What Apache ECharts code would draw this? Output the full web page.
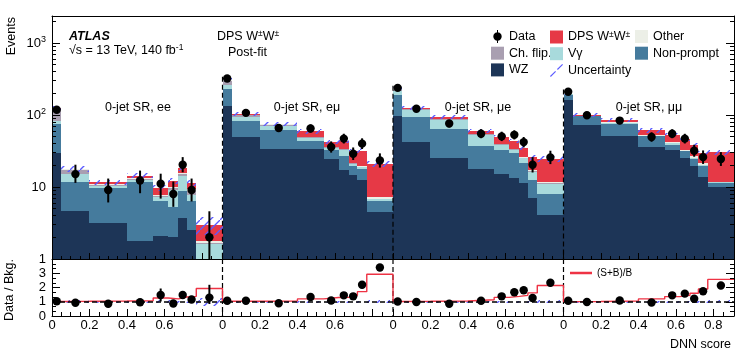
<!DOCTYPE html>
<html>
<head>
<meta charset="utf-8">
<script src="https://cdn.jsdelivr.net/npm/echarts@6/dist/echarts.min.js"></script>
<style>
  html, body { margin: 0; padding: 0; background: #fff; }
  #chart { width: 753px; height: 360px; }
</style>
</head>
<body>
<div id="chart"></div>
<script>
// DNN score binning, identical in every signal region
const binEdges = [0, 0.05, 0.2, 0.4, 0.54, 0.62, 0.675, 0.72, 0.77, 0.91];
const regionNames = ['0-jet SR, ee', '0-jet SR, eμ', '0-jet SR, μe', '0-jet SR, μμ'];

// tick positions inside one region
const majorTicks = [0, 0.2, 0.4, 0.6, 0.8];
const minorTicks = [0.05, 0.1, 0.15, 0.25, 0.3, 0.35, 0.45, 0.5, 0.55, 0.65, 0.7, 0.75, 0.85];
const tickLabels = [[0, 0.2, 0.4, 0.6], [0, 0.2, 0.4, 0.6], [0, 0.2, 0.4, 0.6], [0, 0.2, 0.4, 0.6, 0.8]];
const logMinorTicks = [2, 3, 4, 5, 6, 7, 8, 9, 20, 30, 40, 50, 60, 70, 80, 90, 200, 300, 400, 500, 600, 700, 800, 900, 2000];

// post-fit yields, one row per region (ee, eμ, μe, μμ)
const wz = [
  [30, 4.7, 3.2, 1.8, 2.1, 2.05, 3.7, 2.5, 0.4],
  [132, 49, 34, 34, 24.5, 17.4, 14.8, 12.6, 4.5],
  [96, 41.7, 25.3, 17.8, 15.1, 13.3, 11.3, 7, 4.1],
  [164, 73.5, 51.7, 36, 33, 25.3, 19.3, 13.6, 10]
];
const nonPrompt = [
  [45, 7.0, 6.5, 9.8, 4.2, 3.15, 5.0, 3.8, 0.5],
  [99, 33, 28.6, 9, 7.7, 9.8, 4.5, 5.2, 1.9],
  [96, 52, 39.3, 18.8, 17.9, 16.4, 10.2, 5.6, 3.9],
  [28, 22.5, 24.3, 14.5, 5.7, 5.9, 5.2, 5.7, 1.3]
];
const vGamma = [
  [6.5, 3.6, 0.6, 0.9, 0.9, 3.9, 5.3, 1.5, 0.7],
  [34, 12, 8.4, 5, 2.7, 5.8, 1.7, 1.2, 0.4],
  [22, 25, 21, 16.4, 5.7, 3.3, 3.8, 3.8, 3.1],
  [2, 0.5, 1, 1, 1.5, 0.8, 1, 1.2, 0.3]
];
const chFlip = [
  [37, 2.1, 0.3, 0.6, 0.4, 0.5, 1.2, 1.0, 0.05],
  [30, 5, 2, 1, 0.5, 0.4, 0.3, 0.2, 0.1],
  [8, 2, 2, 1, 0.5, 0.4, 0.3, 0.2, 0.1],
  [0, 0, 0, 0, 0, 0, 0, 0, 0]
];
const other = [
  [3, 0.3, 0.3, 0.3, 0.2, 0.4, 0.6, 0.5, 0.1],
  [8, 2, 1, 1, 0.5, 0.4, 0.3, 0.3, 0.3],
  [4, 1.5, 1.4, 1, 0.8, 0.6, 0.5, 0.4, 0.4],
  [2.5, 1, 2, 1.5, 1.5, 1, 1.1, 1, 0.3]
];
const dps = [
  [3, 0.3, 0.7, 0.9, 1.9, 2.2, 2.5, 2.0, 1.25],
  [8, 3, 2, 9, 6.3, 10.2, 9.6, 12.4, 13.6],
  [5, 2.5, 4, 5.6, 9, 10, 8.7, 9, 12.9],
  [2, 1.5, 7, 8, 11.3, 13.4, 12.1, 8.2, 18.3]
];
// relative uncertainty of the prediction
const predUnc = [
  [0.07, 0.1, 0.08, 0.08, 0.1, 0.1, 0.08, 0.1, 0.28],
  [0.05, 0.06, 0.06, 0.07, 0.07, 0.07, 0.07, 0.08, 0.09],
  [0.05, 0.06, 0.06, 0.07, 0.07, 0.07, 0.07, 0.08, 0.09],
  [0.05, 0.06, 0.06, 0.07, 0.07, 0.07, 0.07, 0.08, 0.09]
];

// observed data
const dataObs = [
  [118, 15.1, 9.1, 12.3, 11.1, 8.0, 20.4, 9.1, 2.0],
  [321, 107, 66, 65, 36, 47, 29, 40, 23.4],
  [238, 122, 76, 55, 50.5, 53, 42, 20.4, 25.8],
  [210, 99, 83.6, 49.5, 55, 47, 31.9, 26, 24.5]
];
const dataErrLo = [
  [11, 3.7, 3.0, 4.1, 4.2, 2.7, 4.4, 2.8, 1.3],
  [18, 10, 8, 8, 6, 6.8, 5.3, 6.3, 4.8],
  [15, 11, 8.7, 7.4, 7.1, 7.3, 6.5, 4.5, 5],
  [14.5, 10, 9.1, 7, 7.4, 6.8, 5.6, 5.1, 4.9]
];
const dataErrHi = [
  [12, 5.3, 4.0, 4.6, 4.2, 3.9, 5.6, 4.0, 2.6],
  [19, 11, 9, 9, 7, 7.9, 6.4, 7.4, 5.9],
  [16, 12, 9.7, 8.4, 8.1, 8.3, 7.5, 5.6, 6.1],
  [15.5, 11, 10.1, 8, 8.4, 7.8, 6.7, 6.2, 6]
];

// lower panel
const ratioData = [
  [1.04, 0.93, 0.86, 0.97, 1.47, 0.88, 1.47, 1.16, 1.29],
  [1.07, 1.07, 0.90, 1.33, 1.09, 1.45, 1.38, 2.19, 3.40],
  [1.02, 0.98, 0.86, 1.07, 1.38, 1.67, 1.81, 1.26, 2.33],
  [1.07, 0.98, 1.09, 0.95, 1.45, 1.57, 1.21, 1.74, 2.14]
];
const ratioErrLo = [
  [0.1, 0.2, 0.25, 0.2, 0.45, 0.25, 0.25, 0.25, 0.45],
  [0.06, 0.1, 0.12, 0.15, 0.15, 0.2, 0.2, 0.25, 0.25],
  [0.07, 0.1, 0.11, 0.15, 0.18, 0.2, 0.2, 0.2, 0.25],
  [0.07, 0.1, 0.12, 0.14, 0.2, 0.2, 0.2, 0.2, 0.25]
];
const ratioErrHi = [
  [0.1, 0.2, 0.25, 0.2, 0.46, 0.25, 0.25, 0.25, 0.9],
  [0.06, 0.1, 0.12, 0.15, 0.15, 0.2, 0.2, 0.25, 0.25],
  [0.07, 0.1, 0.11, 0.15, 0.18, 0.2, 0.2, 0.2, 0.25],
  [0.07, 0.1, 0.12, 0.14, 0.2, 0.2, 0.2, 0.2, 0.25]
];
const sbOverB = [
  [1.02, 1.03, 1.05, 1.07, 1.26, 1.2, 1.33, 1.38, 1.93],
  [1.03, 1.04, 1.05, 1.2, 1.3, 1.32, 1.45, 1.71, 2.93],
  [1.02, 1.03, 1.05, 1.14, 1.31, 1.38, 1.45, 1.62, 2.14],
  [1.01, 1.02, 1.05, 1.2, 1.36, 1.45, 1.6, 1.9, 2.57]
];

const FONT = 'Liberation Sans, Arial, Helvetica, sans-serif';
const span = binEdges[binEdges.length - 1];
const nReg = regionNames.length;
const xMax = span * nReg;
const STACK_FLOOR = 1e-3;

// hatch pattern for the uncertainty band
const hatch = document.createElement('canvas');
hatch.width = 10;
hatch.height = 10;
const hctx = hatch.getContext('2d');
hctx.strokeStyle = '#5a5aff';
hctx.lineWidth = 1.3;
hctx.beginPath();
hctx.moveTo(-1, 11);
hctx.lineTo(11, -1);
hctx.stroke();
const hatchFill = { image: hatch, repeat: 'repeat' };

const components = [
  { name: 'WZ', color: '#1d3557', values: wz },
  { name: 'Non-prompt', color: '#457b9d', values: nonPrompt },
  { name: 'Vγ', color: '#a8dadc', values: vGamma },
  { name: 'Ch. flip.', color: '#a99fb1', values: chFlip },
  { name: 'Other', color: '#ecefe7', values: other },
  { name: 'DPS W±W±', color: '#e63946', values: dps }
];

const regionTicks = (list) => {
  const out = [];
  for (let r = 0; r < nReg; r++) list.forEach(v => out.push(+(r * span + v).toFixed(5)));
  return out;
};
const labelValues = [];
tickLabels.forEach((list, r) => list.forEach(v => labelValues.push(+(r * span + v).toFixed(5))));

// cumulative stack
const total = regionNames.map(() => binEdges.slice(1).map(() => 0));
const stackSeries = components.map(comp => {
  const items = [];
  comp.values.forEach((row, r) => {
    row.forEach((v, i) => {
      const lo = total[r][i] > 0 ? total[r][i] : STACK_FLOOR;
      total[r][i] += v;
      items.push([r * span + binEdges[i], r * span + binEdges[i + 1], lo, Math.max(total[r][i], STACK_FLOOR)]);
    });
  });
  return { comp, items };
});

const clipTo = (params, r) => echarts.graphic.clipRectByRect(r, {
  x: params.coordSys.x, y: params.coordSys.y,
  width: params.coordSys.width, height: params.coordSys.height
});

const rectRenderer = (fill) => (params, api) => {
  const p0 = api.coord([api.value(0), api.value(3)]);
  const p1 = api.coord([api.value(1), api.value(2)]);
  const x0 = Math.round(p0[0]), x1 = Math.round(p1[0]);
  const y0 = Math.round(p0[1]), y1 = Math.round(p1[1]);
  const shape = clipTo(params, { x: x0, y: y0, width: x1 - x0, height: y1 - y0 });
  if (!shape) return;
  return { type: 'rect', shape, style: { fill: fill || api.visual('color') } };
};

const pointRenderer = (params, api) => {
  const c = api.coord([api.value(0), api.value(1)]);
  const lo = api.coord([api.value(0), api.value(2)]);
  const hi = api.coord([api.value(0), api.value(3)]);
  const cs = params.coordSys;
  return {
    type: 'group',
    children: [
      { type: 'line', shape: { x1: c[0], y1: Math.max(hi[1], cs.y), x2: c[0], y2: Math.min(lo[1], cs.y + cs.height) },
        style: { stroke: '#000', lineWidth: 2 } },
      { type: 'circle', shape: { cx: c[0], cy: c[1], r: 4.2 }, style: { fill: '#000' } }
    ]
  };
};

const binCenter = (r, i) => r * span + (binEdges[i] + binEdges[i + 1]) / 2;

const dataItems = [], uncItems = [], ratioItems = [], ratioBand = [], sbLine = [];
dataObs.forEach((row, r) => row.forEach((v, i) => {
  dataItems.push([binCenter(r, i), v, v - dataErrLo[r][i], v + dataErrHi[r][i]]);
  const t = total[r][i], u = predUnc[r][i];
  uncItems.push([r * span + binEdges[i], r * span + binEdges[i + 1], t * (1 - u), t * (1 + u)]);
  ratioBand.push([r * span + binEdges[i], r * span + binEdges[i + 1], 1 - u, 1 + u]);
  const q = ratioData[r][i];
  ratioItems.push([binCenter(r, i), q, q - ratioErrLo[r][i], q + ratioErrHi[r][i]]);
  sbLine.push([r * span + binEdges[i], sbOverB[r][i]]);
}));
sbLine.push([xMax, sbOverB[nReg - 1][binEdges.length - 2]]);

// region separators reach up to the taller neighbouring bin
const sepItems = [];
for (let r = 1; r < nReg; r++) {
  const a = dataObs[r - 1][8] + dataErrHi[r - 1][8], b = dataObs[r][0] + dataErrHi[r][0];
  sepItems.push([r * span, Math.max(a, b, total[r - 1][8], total[r][0])]);
}

const sepRenderer = (full) => (params, api) => {
  const cs = params.coordSys;
  const p = api.coord([api.value(0), full ? 1 : api.value(1)]);
  return {
    type: 'line',
    shape: { x1: p[0], y1: full ? cs.y : p[1], x2: p[0], y2: cs.y + cs.height },
    style: { stroke: '#000', lineWidth: 1.2, lineDash: [5, 3] }
  };
};

const supRich = {
  n: { fontSize: 13, fontFamily: FONT, color: '#000', lineHeight: 15 },
  s: { fontSize: 9, fontFamily: FONT, color: '#000', lineHeight: 9, verticalAlign: 'top' }
};
const legendRich = {
  t: { fontSize: 12.5, fontFamily: FONT, color: '#000', lineHeight: 14 },
  s: { fontSize: 8.5, fontFamily: FONT, color: '#000', lineHeight: 8, verticalAlign: 'top' }
};
const legendFormatter = (name) => name === 'DPS W±W±' ? '{t|DPS W}{s|±}{t|W}{s|±}' : '{t|' + name + '}';

const dataIcon = 'path://M6,0L7,0L7,13L6,13Z M2.3,6.5A4.2,4.2,0,1,1,10.7,6.5A4.2,4.2,0,1,1,2.3,6.5Z';
const uncIcon = 'path://M0,12.2L5.2,7L6,7.8L0.8,13Z M7,5.2L12.2,0L13,0.8L7.8,6Z';

const legendBase = {
  orient: 'vertical', itemWidth: 13, itemHeight: 13, itemGap: 3.7, padding: 0,
  selectedMode: false, formatter: legendFormatter,
  textStyle: { rich: legendRich, fontFamily: FONT, fontSize: 12.5 }
};

const axisBlack = { color: '#000', width: 1 };
const xBase = (grid) => ({
  type: 'value', gridIndex: grid, min: 0, max: xMax, z: 10,
  splitLine: { show: false }, axisLine: { show: false, onZero: false },
  axisLabel: { show: false }, axisTick: { show: false }
});

const xLabelFormatter = (v) => {
  const r = Math.floor(v / span + 1e-6);
  const loc = Math.round((v - r * span) * 100) / 100;
  return loc === 0 ? '0' : loc.toFixed(1);
};

const xAxes = [
  // upper panel: bottom line + major ticks, minor ticks, top frame
  Object.assign(xBase(0), { position: 'bottom', axisLine: { show: true, onZero: false, lineStyle: axisBlack },
    axisTick: { show: true, inside: true, length: 6, customValues: regionTicks(majorTicks), lineStyle: axisBlack } }),
  Object.assign(xBase(0), { position: 'bottom',
    axisTick: { show: true, inside: true, length: 3, customValues: regionTicks(minorTicks), lineStyle: axisBlack } }),
  Object.assign(xBase(0), { position: 'top', axisLine: { show: true, onZero: false, lineStyle: axisBlack } }),
  // lower panel
  Object.assign(xBase(1), { position: 'bottom', axisLine: { show: true, onZero: false, lineStyle: axisBlack },
    axisTick: { show: true, inside: true, length: 7, customValues: regionTicks(majorTicks), lineStyle: axisBlack },
    axisLabel: { show: true, customValues: labelValues, formatter: xLabelFormatter, fontSize: 13, fontFamily: FONT, color: '#000', margin: 3 } }),
  Object.assign(xBase(1), { position: 'bottom',
    axisTick: { show: true, inside: true, length: 4, customValues: regionTicks(minorTicks), lineStyle: axisBlack } })
];

const mainYFormatter = (v) => {
  const e = Math.round(Math.log10(v));
  if (Math.abs(Math.pow(10, e) - v) > 1e-6 * v) return '';
  if (e === 0) return '{n|1}';
  if (e === 1) return '{n|10}';
  return '{n|10}{s|' + e + '}';
};

const yLog = (pos, major) => ({
  type: 'log', logBase: 10, gridIndex: 0, min: 1, max: 2370, position: pos, z: 10,
  splitLine: { show: false },
  axisLine: { show: major, onZero: false, lineStyle: axisBlack },
  axisTick: major
    ? { show: true, inside: true, length: 8, lineStyle: axisBlack }
    : { show: true, inside: true, length: 4, customValues: logMinorTicks, lineStyle: axisBlack },
  axisLabel: (major && pos === 'left')
    ? { show: true, formatter: mainYFormatter, rich: supRich, margin: 6, showMinLabel: true, showMaxLabel: true }
    : { show: false }
});

const yRatio = (pos) => ({
  type: 'value', gridIndex: 1, min: 0, max: 4, interval: 1, position: pos, z: 10,
  splitLine: { show: false },
  axisLine: { show: true, onZero: false, lineStyle: axisBlack },
  axisTick: { show: true, inside: true, length: 8, lineStyle: axisBlack },
  minorTick: { show: true, splitNumber: 3, length: 4, lineStyle: axisBlack },
  axisLabel: pos === 'left'
    ? { show: true, formatter: (v) => v >= 4 ? '' : String(v), fontSize: 13, fontFamily: FONT, color: '#000', margin: 6 }
    : { show: false }
});

const series = stackSeries.map(({ comp, items }) => ({
  name: comp.name, type: 'custom', xAxisIndex: 0, yAxisIndex: 0, z: 2,
  itemStyle: { color: comp.color },
  renderItem: rectRenderer(comp.color),
  encode: { x: [0, 1], y: [2, 3] },
  data: items, silent: true
}));

series.push({
  name: 'Uncertainty', type: 'custom', xAxisIndex: 0, yAxisIndex: 0, z: 3,
  itemStyle: { color: '#5a5aff' }, renderItem: rectRenderer(hatchFill),
  encode: { x: [0, 1], y: [2, 3] }, data: uncItems, silent: true
});
series.push({
  name: 'sep', type: 'custom', xAxisIndex: 0, yAxisIndex: 0, z: 4,
  renderItem: sepRenderer(false), encode: { x: 0, y: 1 }, data: sepItems, silent: true
});
series.push({
  name: 'Data', type: 'custom', xAxisIndex: 0, yAxisIndex: 0, z: 5,
  itemStyle: { color: '#000' }, renderItem: pointRenderer,
  encode: { x: 0, y: [1, 2, 3] }, data: dataItems, silent: true
});

// lower panel
series.push({
  name: 'ratioBand', type: 'custom', xAxisIndex: 3, yAxisIndex: 4, z: 3,
  renderItem: rectRenderer(hatchFill), encode: { x: [0, 1], y: [2, 3] }, data: ratioBand, silent: true,
  markLine: { silent: true, symbol: ['none', 'none'], label: { show: false },
    lineStyle: { color: '#000', width: 1.6, type: [5, 3] }, data: [{ yAxis: 1 }] }
});
series.push({
  name: 'ratioSep', type: 'custom', xAxisIndex: 3, yAxisIndex: 4, z: 4,
  renderItem: sepRenderer(true), encode: { x: 0 }, data: sepItems.map(s => [s[0]]), silent: true
});
series.push({
  name: '(S+B)/B', type: 'line', xAxisIndex: 3, yAxisIndex: 4, z: 4, step: 'end',
  showSymbol: false, silent: true, data: sbLine,
  itemStyle: { color: '#ee3344' }, lineStyle: { color: '#ee3344', width: 1.4 }
});
series.push({
  name: 'Data/Bkg', type: 'custom', xAxisIndex: 3, yAxisIndex: 4, z: 5,
  renderItem: pointRenderer, encode: { x: 0, y: [1, 2, 3] }, data: ratioItems, silent: true
});

const txt = (x, y, text, extra) => ({
  type: 'text', x, y, silent: true,
  ...(extra && extra.rotation ? { rotation: extra.rotation } : {}),
  style: Object.assign({
    text, fill: '#000', font: '12.5px ' + FONT,
    align: 'left', verticalAlign: 'middle', textAlign: 'left', textVerticalAlign: 'middle'
  }, extra ? extra.style : {})
});

const graphic = [
  txt(69, 37, 'ATLAS', { style: { font: 'italic bold 12.5px ' + FONT } }),
  txt(69, 51, '{n|√s = 13 TeV, 140 fb}{s|-1}', { style: { rich: {
    n: { fontSize: 12.5, fontFamily: FONT, lineHeight: 15 },
    s: { fontSize: 8.5, fontFamily: FONT, lineHeight: 9, verticalAlign: 'top' } } } }),
  txt(217, 37, '{n|DPS W}{s|±}{n|W}{s|±}', { style: { rich: {
    n: { fontSize: 12.5, fontFamily: FONT, lineHeight: 15 },
    s: { fontSize: 8.5, fontFamily: FONT, lineHeight: 9, verticalAlign: 'top' } } } }),
  txt(228, 53, 'Post-fit'),
  txt(12, 17, 'Events', { rotation: Math.PI / 2, style: { align: 'right', textAlign: 'right' } }),
  txt(10, 290, 'Data / Bkg.', { rotation: Math.PI / 2, style: { align: 'center', textAlign: 'center' } }),
  txt(731, 345, 'DNN score', { style: { align: 'right', textAlign: 'right' } })
];
const regionCentres = [138, 307, 478, 649];
regionNames.forEach((name, r) => {
  graphic.push(txt(regionCentres[r], 108, name, { style: { align: 'center', textAlign: 'center' } }));
});

const chart = echarts.init(document.getElementById('chart'));
chart.setOption({
  animation: false,
  backgroundColor: '#fff',
  textStyle: { fontFamily: FONT },
  grid: [
    { left: 52, top: 16, width: 682, height: 243, outerBoundsMode: 'none', containLabel: false },
    { left: 52, top: 259, width: 682, height: 57, outerBoundsMode: 'none', containLabel: false }
  ],
  xAxis: xAxes,
  yAxis: [yLog('left', true), yLog('left', false), yLog('right', true), yLog('right', false), yRatio('left'), yRatio('right')],
  legend: [
    Object.assign({}, legendBase, { left: 491, top: 30,
      data: [{ name: 'Data', icon: dataIcon }, { name: 'Ch. flip.', icon: 'rect' }, { name: 'WZ', icon: 'rect' }] }),
    Object.assign({}, legendBase, { left: 550, top: 30,
      data: [{ name: 'DPS W±W±', icon: 'rect' }, { name: 'Vγ', icon: 'rect' }, { name: 'Uncertainty', icon: uncIcon }] }),
    Object.assign({}, legendBase, { left: 635, top: 30,
      data: [{ name: 'Other', icon: 'rect' }, { name: 'Non-prompt', icon: 'rect' }] }),
    { left: 570, top: 268, padding: 0, itemWidth: 22, itemHeight: 2.5, selectedMode: false,
      data: [{ name: '(S+B)/B', icon: 'rect' }],
      textStyle: { fontSize: 10, fontFamily: FONT, color: '#000' } }
  ],
  graphic,
  series
});
</script>
</body>
</html>
